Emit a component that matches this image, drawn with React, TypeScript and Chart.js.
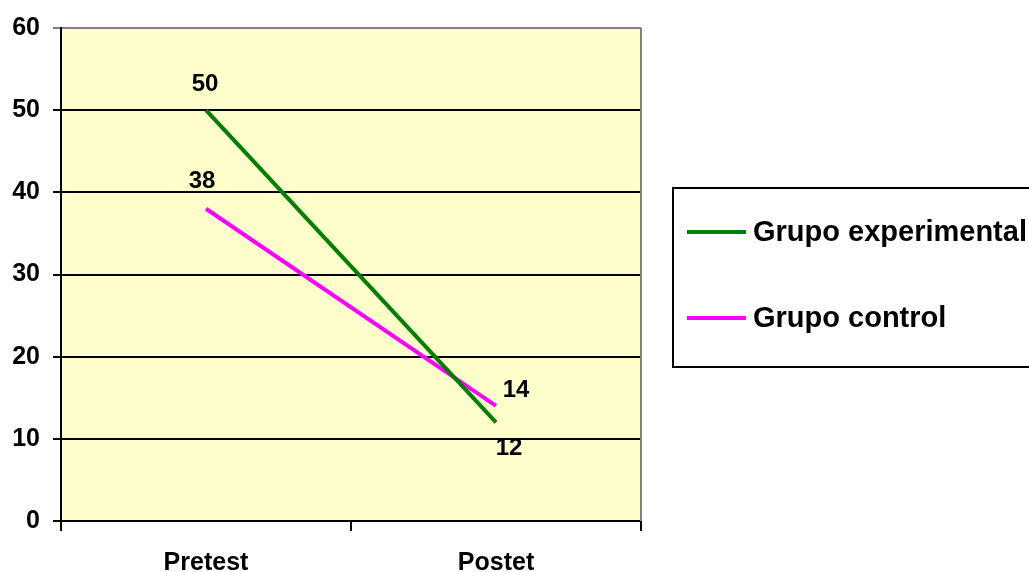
import React, { useEffect, useRef } from "react";
import { Chart, registerables } from "chart.js";

Chart.register(...registerables);

// Categories and series values
const categories: string[] = ["Pretest", "Postet"];
const experimentalValues: number[] = [50, 12];
const controlValues: number[] = [38, 14];
const seriesNames: string[] = ["Grupo experimental", "Grupo control"];
const seriesColors: string[] = ["#008000", "#FF00FF"];

// Value axis range
const yMin = 0;
const yMax = 60;
const yStep = 10;

const FONT = "Arial, 'Liberation Sans', sans-serif";

// Where each value label sits relative to its point (dx, dy in px)
const labelOffsets: [number, number][][] = [
  [[-1, -26], [13, 26]],
  [[-4, -27], [20, -16]],
];

const plotFrame = {
  id: "plotFrame",
  beforeDraw(chart: any) {
    const { ctx, chartArea } = chart;
    ctx.save();
    ctx.fillStyle = "#FFFFCC";
    ctx.fillRect(chartArea.left, chartArea.top, chartArea.right - chartArea.left, chartArea.bottom - chartArea.top);
    ctx.restore();
  },
  beforeDatasetsDraw(chart: any) {
    const { ctx, chartArea } = chart;
    ctx.save();
    ctx.strokeStyle = "#808080";
    ctx.lineWidth = 2;
    ctx.beginPath();
    ctx.moveTo(chartArea.right, chartArea.top);
    ctx.lineTo(chartArea.right, chartArea.bottom);
    ctx.stroke();
    ctx.restore();
  },
};

const valueLabels = {
  id: "valueLabels",
  afterDatasetsDraw(chart: any) {
    const { ctx } = chart;
    ctx.save();
    ctx.font = `bold 24px ${FONT}`;
    ctx.fillStyle = "#000";
    ctx.textAlign = "center";
    ctx.textBaseline = "middle";
    chart.data.datasets.forEach((ds: any, di: number) => {
      const meta = chart.getDatasetMeta(di);
      meta.data.forEach((pt: any, i: number) => {
        const [dx, dy] = labelOffsets[di][i];
        ctx.fillText(String(ds.data[i]), pt.x + dx, pt.y + dy);
      });
    });
    ctx.restore();
  },
};

const boxLegend = {
  id: "boxLegend",
  afterDraw(chart: any) {
    const { ctx } = chart;
    const boxX = 673;
    const boxY = 188;
    const boxW = 400;
    const boxH = 179;
    ctx.save();
    ctx.strokeStyle = "#000";
    ctx.lineWidth = 2;
    ctx.strokeRect(boxX, boxY, boxW, boxH);
    ctx.font = `bold 29px ${FONT}`;
    ctx.fillStyle = "#000";
    ctx.textAlign = "left";
    ctx.textBaseline = "middle";
    chart.data.datasets.forEach((ds: any, i: number) => {
      const y = 232 + i * 86;
      ctx.strokeStyle = ds.borderColor;
      ctx.lineWidth = 4;
      ctx.beginPath();
      ctx.moveTo(687, y);
      ctx.lineTo(746, y);
      ctx.stroke();
      ctx.fillText(ds.label, 753, y + 1);
    });
    ctx.restore();
  },
};

export default function App() {
  const canvasRef = useRef<HTMLCanvasElement | null>(null);

  useEffect(() => {
    const canvas = canvasRef.current;
    if (!canvas) return;
    const chart = new Chart(canvas, {
      type: "line",
      data: {
        labels: categories,
        datasets: [
          {
            label: seriesNames[0],
            data: experimentalValues,
            borderColor: seriesColors[0],
            backgroundColor: seriesColors[0],
            borderWidth: 4,
            pointRadius: 0,
            tension: 0,
          },
          {
            label: seriesNames[1],
            data: controlValues,
            borderColor: seriesColors[1],
            backgroundColor: seriesColors[1],
            borderWidth: 4,
            pointRadius: 0,
            tension: 0,
          },
        ],
      },
      options: {
        responsive: false,
        animation: false,
        layout: { padding: { top: 26, right: 388, bottom: 0, left: 0 } },
        plugins: {
          legend: { display: false },
          tooltip: { enabled: false },
        },
        scales: {
          x: {
            type: "category",
            offset: true,
            grid: {
              offset: true,
              drawOnChartArea: false,
              drawTicks: true,
              tickLength: 10,
              color: "#000",
              lineWidth: 2,
            },
            border: { color: "#000", width: 2 },
            ticks: {
              color: "#000",
              font: { family: FONT, size: 25, weight: "bold" },
              padding: 17,
              maxRotation: 0,
            },
            afterFit(scale: any) {
              scale.height = 51;
            },
          },
          y: {
            min: yMin,
            max: yMax,
            ticks: {
              stepSize: yStep,
              color: "#000",
              font: { family: FONT, size: 25, weight: "bold" },
              padding: 13,
            },
            grid: {
              color: (c: any) => (c.tick && c.tick.value === yMax ? "#808080" : "#000"),
              lineWidth: 2,
              tickLength: 8,
            },
            border: { color: "#000", width: 2 },
            afterFit(scale: any) {
              scale.width = 61;
            },
          },
        },
      },
      plugins: [plotFrame, valueLabels, boxLegend],
    });
    return () => chart.destroy();
  }, []);

  return (
    <div style={{ position: "fixed", left: 0, top: 0, width: 1029, height: 572, background: "#fff" }}>
      <canvas ref={canvasRef} width={1029} height={572} />
    </div>
  );
}
